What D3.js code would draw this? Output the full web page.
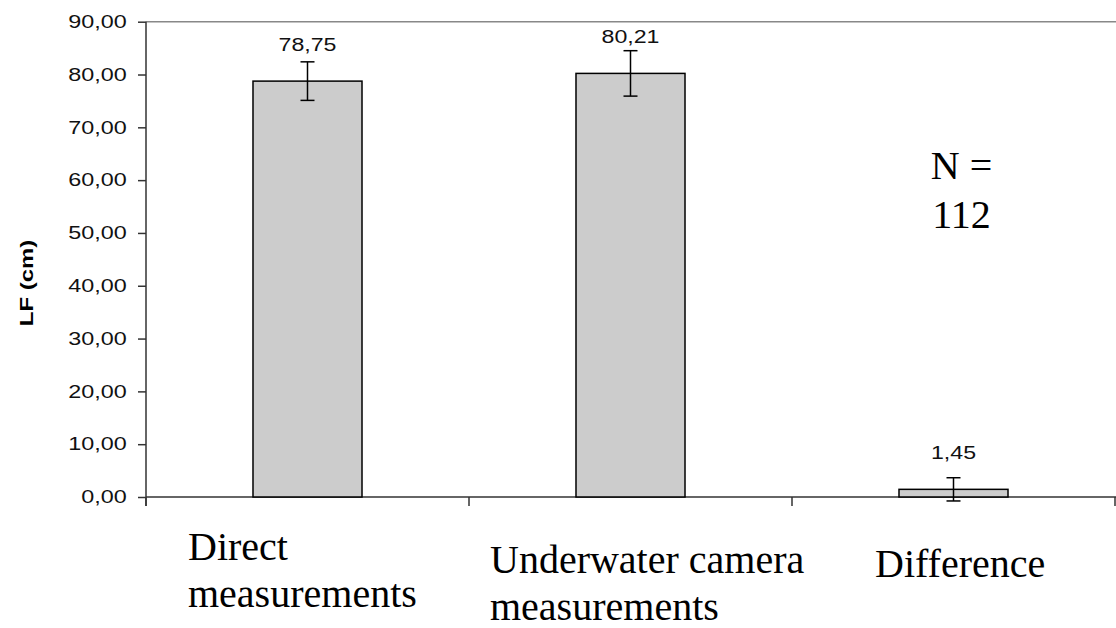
<!DOCTYPE html>
<html>
<head>
<meta charset="utf-8">
<script src="https://cdn.jsdelivr.net/npm/d3@7"></script>
<style>
  body { margin: 0; background: #fff; }
  svg { display: block; }
  .tick-label { font-family: "Liberation Sans", Arial, sans-serif; font-size: 18px; fill: #111; }
  .value-label { font-family: "Liberation Sans", Arial, sans-serif; font-size: 19px; fill: #111; }
  .cat-label, .note { font-family: "Liberation Serif", "Times New Roman", serif; font-size: 40px; fill: #000; }
  .y-title { font-family: "Liberation Sans", Arial, sans-serif; font-size: 18px; font-weight: bold; fill: #000; }
</style>
</head>
<body>
<div id="chart"></div>
<script>
// data
const categories = ['Direct measurements', 'Underwater camera measurements', 'Difference'];
const categoryLines = [['Direct', 'measurements'], ['Underwater camera', 'measurements'], ['Difference']];
const means = [78.75, 80.21, 1.45];
const errors = [3.65, 4.3, 2.2];
const meanLabels = ['78,75', '80,21', '1,45'];
const yTickValues = [0, 10, 20, 30, 40, 50, 60, 70, 80, 90];
const note = ['N =', '112'];

// layout
const W = 1116, H = 628;
const margin = { top: 21.7, right: 1, bottom: 131, left: 146 };
const sansStretch = 1.3; // the original's sans text is drawn wide
const lineGap = 47;
// where each wrapped category label sits (offset from band start, first baseline)
const labelPos = [{ dx: 42, y: 559.5 }, { dx: 21, y: 573 }, { dx: 83, y: 577 }];

const svg = d3.select('#chart').append('svg')
  .attr('width', W)
  .attr('height', H);

const x = d3.scaleBand()
  .domain(categories)
  .range([margin.left, W - margin.right])
  .paddingInner(0.6625)
  .paddingOuter(0.6625 / 2);

const y = d3.scaleLinear()
  .domain([0, 90])
  .range([H - margin.bottom, margin.top]);

const y0 = y(0);

// top border of plot area
svg.append('line')
  .attr('x1', margin.left).attr('x2', W)
  .attr('y1', y(90)).attr('y2', y(90))
  .attr('stroke', '#888').attr('stroke-width', 1.5);

// y axis
const yAxis = svg.append('g')
  .attr('transform', `translate(${margin.left},0)`)
  .call(d3.axisLeft(y)
    .tickValues(yTickValues)
    .tickSize(8)
    .tickFormat(d => d3.format('.2f')(d).replace('.', ',')));
yAxis.select('.domain').remove();
yAxis.selectAll('.tick line').attr('stroke', '#333').attr('stroke-width', 1.5);
yAxis.selectAll('.tick text')
  .attr('class', 'tick-label')
  .attr('font-size', null).attr('font-family', null)
  .attr('x', -19.3 / sansStretch)
  .attr('transform', `scale(${sansStretch},1)`);

svg.append('line')
  .attr('x1', margin.left).attr('x2', margin.left)
  .attr('y1', y(90)).attr('y2', y0 + 9)
  .attr('stroke', '#333').attr('stroke-width', 1.5);

// x axis line + category boundary ticks
svg.append('line')
  .attr('x1', margin.left).attr('x2', W)
  .attr('y1', y0).attr('y2', y0)
  .attr('stroke', '#333').attr('stroke-width', 1.5);

const bounds = d3.range(categories.length + 1).map(i => margin.left + i * x.step());
svg.append('g')
  .selectAll('line')
  .data(bounds)
  .enter().append('line')
    .attr('x1', d => Math.min(d, W - 1)).attr('x2', d => Math.min(d, W - 1))
    .attr('y1', y0).attr('y2', y0 + 9)
    .attr('stroke', '#333').attr('stroke-width', 1.5);

// bars
svg.append('g')
  .selectAll('rect')
  .data(categories)
  .enter().append('rect')
    .attr('x', d => x(d))
    .attr('y', (d, i) => y(means[i]))
    .attr('width', x.bandwidth())
    .attr('height', (d, i) => y0 - y(means[i]))
    .attr('fill', '#cccccc')
    .attr('stroke', '#000')
    .attr('stroke-width', 1.5);

// error bars
const cap = 7;
const err = svg.append('g')
  .selectAll('g')
  .data(categories)
  .enter().append('g')
    .attr('stroke', '#000')
    .attr('stroke-width', 1.5);

err.append('line')
  .attr('x1', d => x(d) + x.bandwidth() / 2)
  .attr('x2', d => x(d) + x.bandwidth() / 2)
  .attr('y1', (d, i) => y(means[i] + errors[i]))
  .attr('y2', (d, i) => y(means[i] - errors[i]));
err.append('line')
  .attr('x1', d => x(d) + x.bandwidth() / 2 - cap)
  .attr('x2', d => x(d) + x.bandwidth() / 2 + cap)
  .attr('y1', (d, i) => y(means[i] + errors[i]))
  .attr('y2', (d, i) => y(means[i] + errors[i]));
err.append('line')
  .attr('x1', d => x(d) + x.bandwidth() / 2 - cap)
  .attr('x2', d => x(d) + x.bandwidth() / 2 + cap)
  .attr('y1', (d, i) => y(means[i] - errors[i]))
  .attr('y2', (d, i) => y(means[i] - errors[i]));

// value labels
svg.append('g')
  .selectAll('text')
  .data(categories)
  .enter().append('text')
    .attr('class', 'value-label')
    .attr('text-anchor', 'middle')
    .attr('transform', (d, i) =>
      `translate(${x(d) + x.bandwidth() / 2},${y(means[i]) - 30}) scale(1.22,1)`)
    .text((d, i) => meanLabels[i]);

// category labels (wrapped, left aligned)
const cat = svg.append('g')
  .selectAll('g')
  .data(categories)
  .enter().append('g');
cat.each(function(d, i) {
  const startX = x(d) - x.step() * 0.6625 / 2 + labelPos[i].dx;
  d3.select(this).selectAll('text')
    .data(categoryLines[i])
    .enter().append('text')
      .attr('class', 'cat-label')
      .attr('x', startX)
      .attr('y', (l, j) => labelPos[i].y + j * lineGap)
      .text(l => l);
});

// y axis title
svg.append('text')
  .attr('class', 'y-title')
  .attr('text-anchor', 'middle')
  .attr('transform', `translate(33,283) rotate(-90) scale(1.33,1)`)
  .text('LF (cm)');

// N annotation
svg.append('g')
  .selectAll('text')
  .data(note)
  .enter().append('text')
    .attr('class', 'note')
    .attr('text-anchor', 'middle')
    .attr('x', x(categories[2]) + x.bandwidth() / 2 + 8)
    .attr('y', (d, i) => 179 + i * 49)
    .text(d => d);
</script>
</body>
</html>
